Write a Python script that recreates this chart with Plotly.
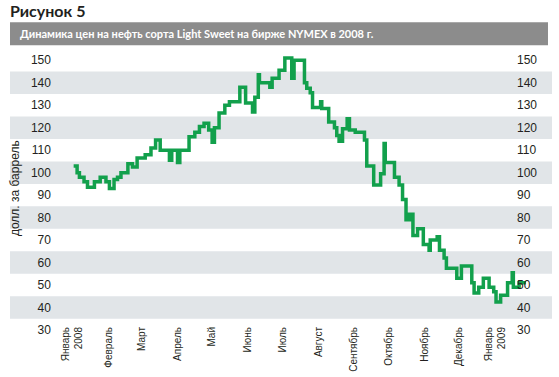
import plotly.graph_objects as go

# ---- data (step series, USD per barrel) ----
dates = [
    "2008-01-02", "2008-01-05", "2008-01-07", "2008-01-11", "2008-01-14", "2008-01-20",
    "2008-01-25", "2008-01-30", "2008-02-02", "2008-02-06", "2008-02-09", "2008-02-12",
    "2008-02-18", "2008-02-22", "2008-02-26", "2008-03-04", "2008-03-09", "2008-03-13",
    "2008-03-17", "2008-03-25", "2008-03-27", "2008-04-01", "2008-04-03", "2008-04-11",
    "2008-04-16", "2008-04-20", "2008-04-24", "2008-04-28", "2008-05-01", "2008-05-03",
    "2008-05-07", "2008-05-12", "2008-05-16", "2008-05-25", "2008-05-30", "2008-06-05",
    "2008-06-07", "2008-06-10", "2008-06-11", "2008-06-20", "2008-06-22", "2008-06-28",
    "2008-07-03", "2008-07-09", "2008-07-11", "2008-07-20", "2008-07-22", "2008-07-25",
    "2008-07-27", "2008-08-03", "2008-08-04", "2008-08-10", "2008-08-15", "2008-08-17",
    "2008-08-19", "2008-08-22", "2008-08-26", "2008-08-28", "2008-09-02", "2008-09-10",
    "2008-09-12", "2008-09-18", "2008-09-24", "2008-09-27", "2008-09-28", "2008-10-06",
    "2008-10-10", "2008-10-13", "2008-10-16", "2008-10-19", "2008-10-22", "2008-10-26",
    "2008-10-31", "2008-11-05", "2008-11-06", "2008-11-12", "2008-11-14", "2008-11-18",
    "2008-11-20", "2008-11-29", "2008-12-03", "2008-12-12", "2008-12-14", "2008-12-18",
    "2008-12-22", "2008-12-27", "2008-12-31", "2009-01-02", "2009-01-06", "2009-01-12",
    "2009-01-16", "2009-01-17", "2009-01-22", "2009-01-28",
]
prices = [
    103, 100, 98, 96, 93.5, 96,
    98, 96, 93, 97, 98, 100,
    104, 102.5, 106.5, 108, 111, 114.5,
    110, 105.5, 110, 104.5, 110, 116,
    118, 120.5, 122, 119, 113.5, 120,
    126.5, 130, 131.5, 138, 131, 127,
    133.5, 143.5, 140, 138, 142, 145.5,
    151, 142, 150, 140, 137.5, 135.5,
    129, 131.5, 128.5, 122.5, 120, 116.5,
    114, 119.5, 124, 119, 118, 114.5,
    103, 94.5, 99.5, 113, 104.5, 98,
    94.5, 88, 79, 81.5, 72, 75,
    68, 65.5, 70, 71.5, 65.5, 62,
    57.5, 53, 58.5, 51, 46.5, 49,
    53, 49, 47, 42.5, 45.5, 51,
    55.5, 49, 51, 51,
]

month_ticks = [
    "2008-01-01", "2008-02-01", "2008-03-01", "2008-04-01", "2008-05-01", "2008-06-01",
    "2008-07-01", "2008-08-01", "2008-09-01", "2008-10-01", "2008-11-01", "2008-12-01",
    "2009-01-01",
]
month_labels = [
    "Январь<br>2008", "Февраль", "Март", "Апрель", "Май", "Июнь", "Июль", "Август",
    "Сентябрь", "Октябрь", "Ноябрь", "Декабрь", "Январь<br>2009",
]
y_ticks = [30, 40, 50, 60, 70, 80, 90, 100, 110, 120, 130, 140, 150]
band_centers = [40, 60, 80, 100, 120, 140]

GREEN = "#12a04c"
BAND = "#e1e5e8"
TXT = "#231f20"
FONT = "Liberation Sans, Arial, sans-serif"
HEAD = "Lato, Roboto, sans-serif"

fig = go.Figure()
fig.add_trace(go.Scatter(
    x=dates, y=prices, mode="lines",
    line=dict(color=GREEN, width=3.5, shape="hv"),
    hoverinfo="x+y", showlegend=False,
))
fig.add_trace(go.Scatter(
    x=dates[:1], y=prices[:1], mode="markers", yaxis="y2",
    marker=dict(opacity=0), hoverinfo="skip", showlegend=False,
))

shapes = []
for c in band_centers:
    shapes.append(dict(type="rect", xref="paper", yref="y", x0=0, x1=1,
                       y0=c - 5, y1=c + 5, fillcolor=BAND, line=dict(width=0),
                       layer="below"))
# grey heading banner
shapes.append(dict(type="rect", xref="paper", yref="paper", x0=0, x1=0.9926,
                   y0=1.0133, y1=1.0951, fillcolor="#8c8c8c", line=dict(width=0)))

fig.update_layout(
    width=559, height=377,
    margin=dict(l=10, r=7, t=48.75, b=47, autoexpand=False),
    paper_bgcolor="white", plot_bgcolor="white",
    shapes=shapes,
    showlegend=False,
    xaxis=dict(
        type="date", domain=[0, 1],
        range=["2007-11-07 20:24", "2009-02-19 12:00"],
        tickmode="array", tickvals=month_ticks, ticktext=month_labels,
        tickangle=-90, tickfont=dict(family=FONT, size=10, color=TXT),
        showgrid=False, zeroline=False, showline=False, ticks="",
        ticklabelstandoff=-6, automargin=False,
    ),
    yaxis=dict(
        range=[30, 155], anchor="free", position=0.0756, side="left",
        tickmode="array", tickvals=y_ticks,
        tickfont=dict(family=FONT, size=12, color=TXT),
        showgrid=False, zeroline=False, showline=False, ticks="",
        automargin=False,
    ),
    yaxis2=dict(
        range=[30, 155], anchor="free", position=0.9336, side="right", overlaying="y",
        tickmode="array", tickvals=y_ticks,
        tickfont=dict(family=FONT, size=12, color=TXT),
        showgrid=False, zeroline=False, showline=False, ticks="",
        automargin=False,
    ),
    annotations=[
        dict(text="<b>Рисунок 5</b>", xref="paper", yref="paper", x=-0.0037, y=1.138,
             xanchor="left", yanchor="middle", showarrow=False,
             font=dict(family=HEAD, size=16, color=TXT)),
        dict(text="<b>Динамика цен на нефть сорта Light Sweet на бирже NYMEX в 2008 г.</b>",
             xref="paper", yref="paper", x=0.0148, y=1.0542,
             xanchor="left", yanchor="middle", showarrow=False,
             font=dict(family=HEAD, size=11, color="white")),
        dict(text="долл. за баррель", xref="paper", yref="paper", x=0.0092, y=0.505,
             xanchor="center", yanchor="middle", textangle=-90, showarrow=False,
             font=dict(family=FONT, size=12, color=TXT)),
    ],
)

# remove the browser's default 8px page margin so the figure sits at the window origin
fig.write_html("out.html", config={"displayModeBar": False},
               post_script="document.body.style.margin='0';")
